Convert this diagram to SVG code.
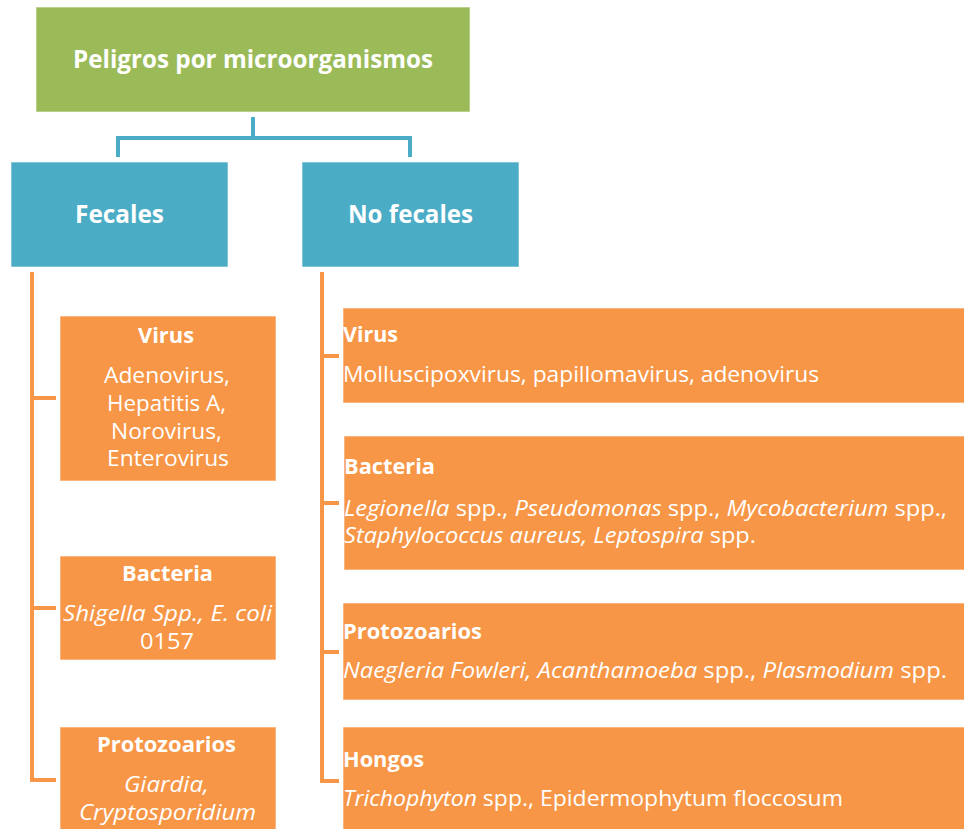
<svg xmlns="http://www.w3.org/2000/svg" width="964" height="829" viewBox="0 0 964 829">
<style>
.green{fill:#9BBB59;stroke:#ffffff;stroke-opacity:0.6;stroke-width:1}
.blue{fill:#4BACC6;stroke:#ffffff;stroke-opacity:0.6;stroke-width:1}
.orange{fill:#F79646;stroke:#ffffff;stroke-opacity:0.6;stroke-width:1}
text{font-family:"Open Sans","Liberation Sans",Arial,sans-serif;fill:#ffffff}
.h1{font-size:25px;font-weight:bold}
.h2{font-size:21px;font-weight:bold}
.t{font-size:21px}
.i{font-style:italic}
.bl{fill:none;stroke:#4BACC6;stroke-width:4}
.ol{fill:none;stroke:#F79646;stroke-width:4}
</style>
<rect width="964" height="829" fill="#ffffff"/>
<g id="connectors">
<path class="bl" d="M253,117 V138 M118,157 V138 H410 V157"/>
<path class="ol" d="M32,272 V780 H56 M32,398 H56 M32,608 H56"/>
<path class="ol" d="M322,272 V781 H339 M322,356 H339 M322,503 H339 M322,652 H339"/>
</g>
<g id="root">
<rect class="green" x="36" y="7" width="434" height="105"/>
<text class="h1" x="253" y="68" text-anchor="middle" textLength="360" lengthAdjust="spacingAndGlyphs">Peligros por microorganismos</text>
</g>
<g id="fecales">
<rect class="blue" x="11" y="162" width="217" height="105"/>
<text class="h1" x="119.5" y="223" text-anchor="middle" textLength="89" lengthAdjust="spacingAndGlyphs">Fecales</text>
</g>
<g id="nofecales">
<rect class="blue" x="302" y="162" width="217" height="105"/>
<text class="h1" x="410.5" y="223" text-anchor="middle" textLength="125" lengthAdjust="spacingAndGlyphs">No fecales</text>
</g>
<g id="f-virus">
<rect class="orange" x="60" y="316" width="216" height="165"/>
<text class="h2" x="166" y="343" text-anchor="middle" textLength="56" lengthAdjust="spacingAndGlyphs">Virus</text>
<text class="t" x="167" y="383" text-anchor="middle" textLength="126" lengthAdjust="spacingAndGlyphs">Adenovirus,</text>
<text class="t" x="166.5" y="411" text-anchor="middle" textLength="119" lengthAdjust="spacingAndGlyphs">Hepatitis A,</text>
<text class="t" x="166.5" y="439" text-anchor="middle" textLength="111" lengthAdjust="spacingAndGlyphs">Norovirus,</text>
<text class="t" x="168" y="466" text-anchor="middle" textLength="122" lengthAdjust="spacingAndGlyphs">Enterovirus</text>
</g>
<g id="f-bacteria">
<rect class="orange" x="60" y="556" width="216" height="104"/>
<text class="h2" x="167.5" y="581" text-anchor="middle" textLength="91" lengthAdjust="spacingAndGlyphs">Bacteria</text>
<text class="t i" x="167.5" y="621" text-anchor="middle" textLength="209" lengthAdjust="spacingAndGlyphs">Shigella Spp., E. coli</text>
<text class="t" x="167" y="649" text-anchor="middle" textLength="54" lengthAdjust="spacingAndGlyphs">0157</text>
</g>
<g id="f-protozoarios">
<rect class="orange" x="60" y="727" width="216" height="110"/>
<text class="h2" x="166.5" y="752" text-anchor="middle" textLength="139" lengthAdjust="spacingAndGlyphs">Protozoarios</text>
<text class="t i" x="166.5" y="792" text-anchor="middle" textLength="85" lengthAdjust="spacingAndGlyphs">Giardia,</text>
<text class="t i" x="167.5" y="820" text-anchor="middle" textLength="177" lengthAdjust="spacingAndGlyphs">Cryptosporidium</text>
</g>
<g id="nf-virus">
<rect class="orange" x="343" y="308" width="630" height="95"/>
<text class="h2" x="343" y="342" textLength="55" lengthAdjust="spacingAndGlyphs">Virus</text>
<text class="t" x="343" y="382" textLength="476" lengthAdjust="spacingAndGlyphs">Molluscipoxvirus, papillomavirus, adenovirus</text>
</g>
<g id="nf-bacteria">
<rect class="orange" x="344" y="436" width="630" height="134"/>
<text class="h2" x="344" y="474" textLength="91" lengthAdjust="spacingAndGlyphs">Bacteria</text>
<text class="t" x="344" y="516" textLength="603" lengthAdjust="spacingAndGlyphs"><tspan class="i">Legionella</tspan> spp., <tspan class="i">Pseudomonas</tspan> spp., <tspan class="i">Mycobacterium</tspan> spp.,</text>
<text class="t" x="344" y="543" textLength="412" lengthAdjust="spacingAndGlyphs"><tspan class="i">Staphylococcus aureus, Leptospira</tspan> spp.</text>
</g>
<g id="nf-protozoarios">
<rect class="orange" x="343" y="603" width="630" height="97"/>
<text class="h2" x="343" y="639" textLength="139" lengthAdjust="spacingAndGlyphs">Protozoarios</text>
<text class="t" x="343" y="678" textLength="604" lengthAdjust="spacingAndGlyphs"><tspan class="i">Naegleria Fowleri, Acanthamoeba</tspan> spp., <tspan class="i">Plasmodium</tspan> spp.</text>
</g>
<g id="nf-hongos">
<rect class="orange" x="343" y="727" width="630" height="110"/>
<text class="h2" x="343" y="767" textLength="81" lengthAdjust="spacingAndGlyphs">Hongos</text>
<text class="t" x="343" y="806" textLength="500" lengthAdjust="spacingAndGlyphs"><tspan class="i">Trichophyton</tspan> spp., Epidermophytum floccosum</text>
</g>
</svg>
